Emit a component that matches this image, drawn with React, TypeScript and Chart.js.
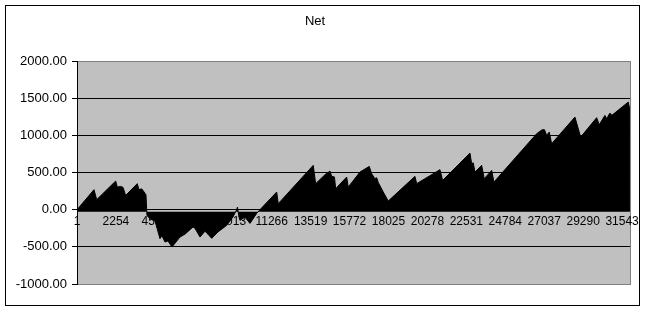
import React, { useEffect, useRef } from "react";
import { Chart, registerables } from "chart.js";

Chart.register(...registerables);

// Trade number (category) of each vertex
const tradeIndex = [
  1, 985, 1141, 2240, 2332, 2528, 2662, 2818, 3489, 3587, 3744, 3877, 3992, 4050,
  4224, 4513, 4802, 4918, 5092, 5265, 5497, 5960, 6249, 6712, 6827, 7117, 7406,
  7580, 7794, 8158, 8662, 9026, 9240, 9287, 9373, 9431, 9720, 10010, 10398, 10588,
  11555, 11647, 13672, 13811, 14349, 14639, 14737, 14899, 14969, 15605, 15698,
  16374, 16913, 17051, 17242, 17341, 17433, 17572, 17723, 18012, 19557, 19655,
  21003, 21160, 22739, 22837, 22930, 23028, 23416, 23566, 23995, 24128, 26598,
  26922, 27050, 27177, 27327, 27466, 28814, 29144, 30070, 30220, 30550, 30648,
  30839, 30955, 31898, 31997,
];

// Net value at each vertex
const netValue = [
  0, 269, 135, 385, 304, 313, 300, 192, 350, 269, 280, 240, 200, -80,
  -120, -150, -390, -350, -435, -420, -503, -368, -330, -233, -250, -368, -290,
  -330, -386, -300, -211, -99, 0, 35, -100, -144, -100, -185, -50, 0,
  237, 81, 596, 350, 470, 519, 448, 440, 282, 439, 304,
  506, 582, 484, 417, 430, 367, 304, 237, 116, 448, 350,
  538, 394, 761, 619, 630, 506, 596, 417, 528, 371, 1022,
  1076, 1076, 999, 1044, 888, 1245, 976, 1237, 1143, 1268, 1224,
  1299, 1270, 1447, 1340,
];

const xTickLabels = [
  1, 2254, 4507, 6760, 9013, 11266, 13519, 15772, 18025, 20278, 22531, 24784,
  27037, 29290, 31543,
];

const yMin = -1000;
const yMax = 2000;
const yStep = 500;
const xMin = 1;
const xMax = 32000;
const chartTitle = "Net";

const FONT = "'Liberation Sans', Arial, sans-serif";

const plotBackground = {
  id: "plotBackground",
  beforeDraw(chart: any) {
    const { ctx, chartArea: a } = chart;
    ctx.save();
    ctx.fillStyle = "#C0C0C0";
    ctx.fillRect(a.left, a.top, a.right - a.left, a.bottom - a.top);
    ctx.strokeStyle = "#808080";
    ctx.lineWidth = 1;
    ctx.strokeRect(
      Math.round(a.left) + 0.5,
      Math.round(a.top) + 0.5,
      Math.round(a.right - a.left),
      Math.round(a.bottom - a.top)
    );
    ctx.restore();
  },
};

export default function App() {
  const canvasRef = useRef<HTMLCanvasElement | null>(null);

  useEffect(() => {
    if (!canvasRef.current) return;
    const points = tradeIndex.map((x, i) => ({ x, y: netValue[i] }));
    const chart = new Chart(canvasRef.current, {
      type: "line",
      data: {
        datasets: [
          {
            data: points,
            borderColor: "#000000",
            borderWidth: 1,
            backgroundColor: "#000000",
            fill: { value: -28 },
            pointRadius: 0,
            tension: 0,
          },
        ],
      },
      options: {
        animation: false,
        responsive: false,
        maintainAspectRatio: false,
        layout: { padding: { left: 0, right: 19, top: 0, bottom: 32 } },
        plugins: {
          legend: { display: false },
          tooltip: { enabled: false },
          title: {
            display: true,
            text: chartTitle,
            color: "#000000",
            font: { family: FONT, size: 13, weight: "normal" },
            padding: { top: 14, bottom: 31.4 },
          },
        },
        scales: {
          x: {
            type: "linear",
            min: xMin,
            max: xMax,
            position: { y: 0 },
            grid: { display: false, drawTicks: false },
            border: { display: false },
            afterBuildTicks: (scale: any) => {
              scale.ticks = xTickLabels.map((v) => ({ value: v }));
            },
            ticks: {
              autoSkip: false,
              maxRotation: 0,
              padding: 5,
              color: "#000000",
              font: { family: FONT, size: 12 },
              callback: (v: any) => String(v),
            },
          },
          y: {
            min: yMin,
            max: yMax,
            afterFit: (scale: any) => {
              scale.width = 77;
            },
            ticks: {
              stepSize: yStep,
              padding: 5,
              color: "#000000",
              font: { family: FONT, size: 13 },
              callback: (v: any) => Number(v).toFixed(2),
            },
            grid: {
              color: (ctx: any) =>
                ctx.tick && (ctx.tick.value === yMax || ctx.tick.value === yMin)
                  ? "#808080"
                  : "#000000",
              tickColor: "#000000",
              tickLength: 5,
            },
            border: { color: "#000000" },
          },
        },
      },
      plugins: [plotBackground],
    });
    return () => chart.destroy();
  }, []);

  return (
    <div
      style={{
        position: "absolute",
        left: 0,
        top: 0,
        width: 649,
        height: 316,
        background: "#ffffff",
      }}
    >
      <div
        style={{
          position: "absolute",
          left: 5,
          top: 5,
          width: 635,
          height: 301,
          boxSizing: "border-box",
          border: "1px solid #000000",
        }}
      />
      <canvas
        ref={canvasRef}
        width={649}
        height={316}
        style={{ position: "absolute", left: 0, top: 0, width: 649, height: 316 }}
      />
    </div>
  );
}
